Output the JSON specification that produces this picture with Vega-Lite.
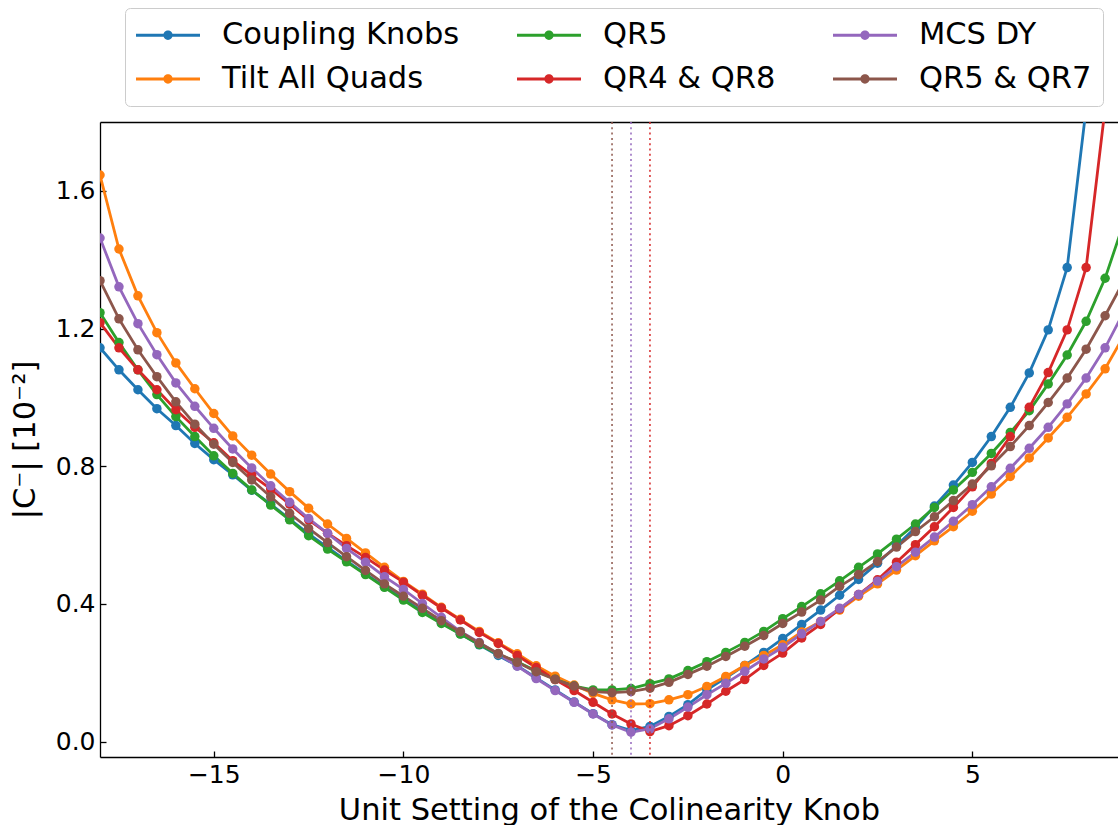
{
  "$schema": "https://vega.github.io/schema/vega-lite/v6.json",
  "width": 1018,
  "height": 635,
  "autosize": {"type": "none"},
  "padding": {"left": 100, "top": 122, "right": 0, "bottom": 68},
  "background": "white",
  "config": {
    "view": {"stroke": null},
    "font": "DejaVu Sans",
    "axis": {
      "domainColor": "black", "domainWidth": 1.3, "tickColor": "black", "tickWidth": 1.3, "tickSize": -6,
      "labelFont": "DejaVu Sans", "labelFontSize": 25, "labelColor": "black", "labelPadding": 11,
      "titleFont": "DejaVu Sans", "titleFontSize": 30.5, "titleFontWeight": "normal", "titleColor": "black",
      "grid": false
    }
  },
  "datasets": {
    "curves": [
      {"x": -18, "Coupling Knobs": 1.144, "Tilt All Quads": 1.646, "QR5": 1.246, "QR4 & QR8": 1.217, "MCS DY": 1.463, "QR5 & QR7": 1.339},
      {"x": -17.5, "Coupling Knobs": 1.080, "Tilt All Quads": 1.431, "QR5": 1.159, "QR4 & QR8": 1.144, "MCS DY": 1.321, "QR5 & QR7": 1.228},
      {"x": -17, "Coupling Knobs": 1.022, "Tilt All Quads": 1.295, "QR5": 1.080, "QR4 & QR8": 1.080, "MCS DY": 1.214, "QR5 & QR7": 1.138},
      {"x": -16.5, "Coupling Knobs": 0.967, "Tilt All Quads": 1.188, "QR5": 1.008, "QR4 & QR8": 1.022, "MCS DY": 1.124, "QR5 & QR7": 1.060},
      {"x": -16, "Coupling Knobs": 0.918, "Tilt All Quads": 1.100, "QR5": 0.944, "QR4 & QR8": 0.964, "MCS DY": 1.042, "QR5 & QR7": 0.987},
      {"x": -15.5, "Coupling Knobs": 0.866, "Tilt All Quads": 1.025, "QR5": 0.886, "QR4 & QR8": 0.913, "MCS DY": 0.974, "QR5 & QR7": 0.922},
      {"x": -15, "Coupling Knobs": 0.819, "Tilt All Quads": 0.953, "QR5": 0.830, "QR4 & QR8": 0.868, "MCS DY": 0.910, "QR5 & QR7": 0.864},
      {"x": -14.5, "Coupling Knobs": 0.775, "Tilt All Quads": 0.888, "QR5": 0.779, "QR4 & QR8": 0.816, "MCS DY": 0.850, "QR5 & QR7": 0.811},
      {"x": -14, "Coupling Knobs": 0.730, "Tilt All Quads": 0.832, "QR5": 0.731, "QR4 & QR8": 0.774, "MCS DY": 0.795, "QR5 & QR7": 0.760},
      {"x": -13.5, "Coupling Knobs": 0.690, "Tilt All Quads": 0.777, "QR5": 0.687, "QR4 & QR8": 0.734, "MCS DY": 0.743, "QR5 & QR7": 0.711},
      {"x": -13, "Coupling Knobs": 0.646, "Tilt All Quads": 0.726, "QR5": 0.644, "QR4 & QR8": 0.690, "MCS DY": 0.695, "QR5 & QR7": 0.663},
      {"x": -12.5, "Coupling Knobs": 0.603, "Tilt All Quads": 0.678, "QR5": 0.598, "QR4 & QR8": 0.644, "MCS DY": 0.648, "QR5 & QR7": 0.619},
      {"x": -12, "Coupling Knobs": 0.564, "Tilt All Quads": 0.632, "QR5": 0.559, "QR4 & QR8": 0.605, "MCS DY": 0.605, "QR5 & QR7": 0.578},
      {"x": -11.5, "Coupling Knobs": 0.525, "Tilt All Quads": 0.590, "QR5": 0.522, "QR4 & QR8": 0.569, "MCS DY": 0.561, "QR5 & QR7": 0.537},
      {"x": -11, "Coupling Knobs": 0.487, "Tilt All Quads": 0.548, "QR5": 0.485, "QR4 & QR8": 0.535, "MCS DY": 0.521, "QR5 & QR7": 0.497},
      {"x": -10.5, "Coupling Knobs": 0.450, "Tilt All Quads": 0.506, "QR5": 0.448, "QR4 & QR8": 0.498, "MCS DY": 0.479, "QR5 & QR7": 0.458},
      {"x": -10, "Coupling Knobs": 0.414, "Tilt All Quads": 0.465, "QR5": 0.411, "QR4 & QR8": 0.463, "MCS DY": 0.442, "QR5 & QR7": 0.422},
      {"x": -9.5, "Coupling Knobs": 0.378, "Tilt All Quads": 0.428, "QR5": 0.375, "QR4 & QR8": 0.425, "MCS DY": 0.401, "QR5 & QR7": 0.387},
      {"x": -9, "Coupling Knobs": 0.345, "Tilt All Quads": 0.390, "QR5": 0.343, "QR4 & QR8": 0.388, "MCS DY": 0.361, "QR5 & QR7": 0.351},
      {"x": -8.5, "Coupling Knobs": 0.313, "Tilt All Quads": 0.355, "QR5": 0.312, "QR4 & QR8": 0.353, "MCS DY": 0.320, "QR5 & QR7": 0.319},
      {"x": -8, "Coupling Knobs": 0.281, "Tilt All Quads": 0.320, "QR5": 0.282, "QR4 & QR8": 0.317, "MCS DY": 0.288, "QR5 & QR7": 0.286},
      {"x": -7.5, "Coupling Knobs": 0.250, "Tilt All Quads": 0.287, "QR5": 0.253, "QR4 & QR8": 0.285, "MCS DY": 0.254, "QR5 & QR7": 0.256},
      {"x": -7, "Coupling Knobs": 0.220, "Tilt All Quads": 0.255, "QR5": 0.232, "QR4 & QR8": 0.250, "MCS DY": 0.219, "QR5 & QR7": 0.230},
      {"x": -6.5, "Coupling Knobs": 0.185, "Tilt All Quads": 0.220, "QR5": 0.205, "QR4 & QR8": 0.215, "MCS DY": 0.183, "QR5 & QR7": 0.203},
      {"x": -6, "Coupling Knobs": 0.150, "Tilt All Quads": 0.190, "QR5": 0.181, "QR4 & QR8": 0.180, "MCS DY": 0.148, "QR5 & QR7": 0.180},
      {"x": -5.5, "Coupling Knobs": 0.115, "Tilt All Quads": 0.164, "QR5": 0.161, "QR4 & QR8": 0.148, "MCS DY": 0.114, "QR5 & QR7": 0.161},
      {"x": -5, "Coupling Knobs": 0.081, "Tilt All Quads": 0.140, "QR5": 0.150, "QR4 & QR8": 0.114, "MCS DY": 0.080, "QR5 & QR7": 0.145},
      {"x": -4.5, "Coupling Knobs": 0.049, "Tilt All Quads": 0.121, "QR5": 0.150, "QR4 & QR8": 0.080, "MCS DY": 0.048, "QR5 & QR7": 0.142},
      {"x": -4, "Coupling Knobs": 0.032, "Tilt All Quads": 0.109, "QR5": 0.154, "QR4 & QR8": 0.051, "MCS DY": 0.027, "QR5 & QR7": 0.145},
      {"x": -3.5, "Coupling Knobs": 0.044, "Tilt All Quads": 0.110, "QR5": 0.168, "QR4 & QR8": 0.029, "MCS DY": 0.037, "QR5 & QR7": 0.155},
      {"x": -3, "Coupling Knobs": 0.073, "Tilt All Quads": 0.121, "QR5": 0.182, "QR4 & QR8": 0.046, "MCS DY": 0.066, "QR5 & QR7": 0.172},
      {"x": -2.5, "Coupling Knobs": 0.107, "Tilt All Quads": 0.136, "QR5": 0.206, "QR4 & QR8": 0.075, "MCS DY": 0.100, "QR5 & QR7": 0.195},
      {"x": -2, "Coupling Knobs": 0.150, "Tilt All Quads": 0.160, "QR5": 0.232, "QR4 & QR8": 0.109, "MCS DY": 0.136, "QR5 & QR7": 0.219},
      {"x": -1.5, "Coupling Knobs": 0.185, "Tilt All Quads": 0.189, "QR5": 0.259, "QR4 & QR8": 0.146, "MCS DY": 0.169, "QR5 & QR7": 0.247},
      {"x": -1, "Coupling Knobs": 0.221, "Tilt All Quads": 0.221, "QR5": 0.288, "QR4 & QR8": 0.180, "MCS DY": 0.204, "QR5 & QR7": 0.277},
      {"x": -0.5, "Coupling Knobs": 0.259, "Tilt All Quads": 0.250, "QR5": 0.320, "QR4 & QR8": 0.221, "MCS DY": 0.240, "QR5 & QR7": 0.308},
      {"x": 0, "Coupling Knobs": 0.299, "Tilt All Quads": 0.281, "QR5": 0.357, "QR4 & QR8": 0.257, "MCS DY": 0.274, "QR5 & QR7": 0.343},
      {"x": 0.5, "Coupling Knobs": 0.340, "Tilt All Quads": 0.318, "QR5": 0.392, "QR4 & QR8": 0.301, "MCS DY": 0.313, "QR5 & QR7": 0.376},
      {"x": 1, "Coupling Knobs": 0.382, "Tilt All Quads": 0.349, "QR5": 0.429, "QR4 & QR8": 0.340, "MCS DY": 0.349, "QR5 & QR7": 0.411},
      {"x": 1.5, "Coupling Knobs": 0.425, "Tilt All Quads": 0.382, "QR5": 0.467, "QR4 & QR8": 0.385, "MCS DY": 0.387, "QR5 & QR7": 0.451},
      {"x": 2, "Coupling Knobs": 0.471, "Tilt All Quads": 0.422, "QR5": 0.506, "QR4 & QR8": 0.427, "MCS DY": 0.427, "QR5 & QR7": 0.485},
      {"x": 2.5, "Coupling Knobs": 0.518, "Tilt All Quads": 0.458, "QR5": 0.545, "QR4 & QR8": 0.470, "MCS DY": 0.466, "QR5 & QR7": 0.523},
      {"x": 3, "Coupling Knobs": 0.569, "Tilt All Quads": 0.498, "QR5": 0.588, "QR4 & QR8": 0.521, "MCS DY": 0.508, "QR5 & QR7": 0.565},
      {"x": 3.5, "Coupling Knobs": 0.622, "Tilt All Quads": 0.540, "QR5": 0.632, "QR4 & QR8": 0.572, "MCS DY": 0.550, "QR5 & QR7": 0.610},
      {"x": 4, "Coupling Knobs": 0.684, "Tilt All Quads": 0.583, "QR5": 0.680, "QR4 & QR8": 0.624, "MCS DY": 0.594, "QR5 & QR7": 0.653},
      {"x": 4.5, "Coupling Knobs": 0.745, "Tilt All Quads": 0.624, "QR5": 0.731, "QR4 & QR8": 0.680, "MCS DY": 0.640, "QR5 & QR7": 0.700},
      {"x": 5, "Coupling Knobs": 0.811, "Tilt All Quads": 0.669, "QR5": 0.782, "QR4 & QR8": 0.740, "MCS DY": 0.688, "QR5 & QR7": 0.748},
      {"x": 5.5, "Coupling Knobs": 0.886, "Tilt All Quads": 0.719, "QR5": 0.837, "QR4 & QR8": 0.808, "MCS DY": 0.740, "QR5 & QR7": 0.801},
      {"x": 6, "Coupling Knobs": 0.971, "Tilt All Quads": 0.770, "QR5": 0.898, "QR4 & QR8": 0.886, "MCS DY": 0.794, "QR5 & QR7": 0.857},
      {"x": 6.5, "Coupling Knobs": 1.071, "Tilt All Quads": 0.824, "QR5": 0.961, "QR4 & QR8": 0.971, "MCS DY": 0.852, "QR5 & QR7": 0.918},
      {"x": 7, "Coupling Knobs": 1.196, "Tilt All Quads": 0.882, "QR5": 1.039, "QR4 & QR8": 1.072, "MCS DY": 0.913, "QR5 & QR7": 0.985},
      {"x": 7.5, "Coupling Knobs": 1.377, "Tilt All Quads": 0.942, "QR5": 1.123, "QR4 & QR8": 1.196, "MCS DY": 0.981, "QR5 & QR7": 1.056},
      {"x": 8, "Coupling Knobs": 1.84, "Tilt All Quads": 1.010, "QR5": 1.221, "QR4 & QR8": 1.377, "MCS DY": 1.056, "QR5 & QR7": 1.140},
      {"x": 8.5, "Tilt All Quads": 1.083, "QR5": 1.346, "QR4 & QR8": 1.84, "MCS DY": 1.144, "QR5 & QR7": 1.237},
      {"x": 9, "Tilt All Quads": 1.18, "QR5": 1.51, "MCS DY": 1.25, "QR5 & QR7": 1.34}
    ],
    "knobs": [
      {"x": -4.5, "series": "QR5 & QR7"},
      {"x": -4, "series": "MCS DY"},
      {"x": -3.5, "series": "QR4 & QR8"}
    ]
  },
  "resolve": {"axis": {"x": "independent"}},
  "layer": [
    {
      "data": {"name": "curves"},
      "transform": [{"fold": ["Coupling Knobs", "Tilt All Quads", "QR5", "QR4 & QR8", "MCS DY", "QR5 & QR7"], "as": ["series", "value"]}],
      "encoding": {
        "x": {"field": "x", "type": "quantitative", "scale": {"domain": [-18, 8.84], "nice": false, "zero": false},
              "axis": {"orient": "bottom", "values": [-15, -10, -5, 0, 5], "format": "d", "title": "Unit Setting of the Colinearity Knob", "labelFlush": false, "titlePadding": 8}},
        "y": {"field": "value", "type": "quantitative", "scale": {"domain": [-0.045, 1.8], "nice": false, "zero": false},
              "axis": {"orient": "left", "values": [0, 0.4, 0.8, 1.2, 1.6], "format": ".1f", "title": "|C⁻| [10⁻²]", "labelFlush": false, "titlePadding": 15}},
        "color": {"field": "series", "type": "nominal",
                  "scale": {"domain": ["Coupling Knobs", "Tilt All Quads", "QR5", "QR4 & QR8", "MCS DY", "QR5 & QR7"],
                            "range": ["#1f77b4", "#ff7f0e", "#2ca02c", "#d62728", "#9467bd", "#8c564b"]},
                  "legend": {"orient": "none", "legendX": 25, "legendY": -114, "columns": 3, "columnPadding": 57, "rowPadding": 12, "padding": 11,
                             "title": null, "symbolType": "M-1,-0.0875L3,-0.0875L3,0.0875L-1,0.0875Z M1.29,0A0.29,0.29 0 1,1 0.71,0A0.29,0.29 0 1,1 1.29,0Z",
                             "symbolSize": 1024, "symbolStrokeWidth": 0, "symbolOpacity": 1,
                             "labelFont": "DejaVu Sans", "labelFontSize": 30.5, "labelColor": "black", "labelOffset": 54, "labelLimit": 400,
                             "strokeColor": "#cccccc", "fillColor": "rgba(255,255,255,0.8)", "cornerRadius": 5}}
      },
      "layer": [
        {"mark": {"type": "line", "strokeWidth": 2.8, "clip": true}},
        {"mark": {"type": "point", "filled": true, "size": 90, "opacity": 1, "clip": true}}
      ]
    },
    {
      "data": {"name": "knobs"},
      "mark": {"type": "rule", "strokeDash": [2, 3.3], "strokeWidth": 1.5},
      "encoding": {
        "x": {"field": "x", "type": "quantitative",
              "axis": {"orient": "top", "labels": false, "ticks": false, "domain": true, "title": null}},
        "color": {"field": "series", "type": "nominal"}
      }
    }
  ]
}
